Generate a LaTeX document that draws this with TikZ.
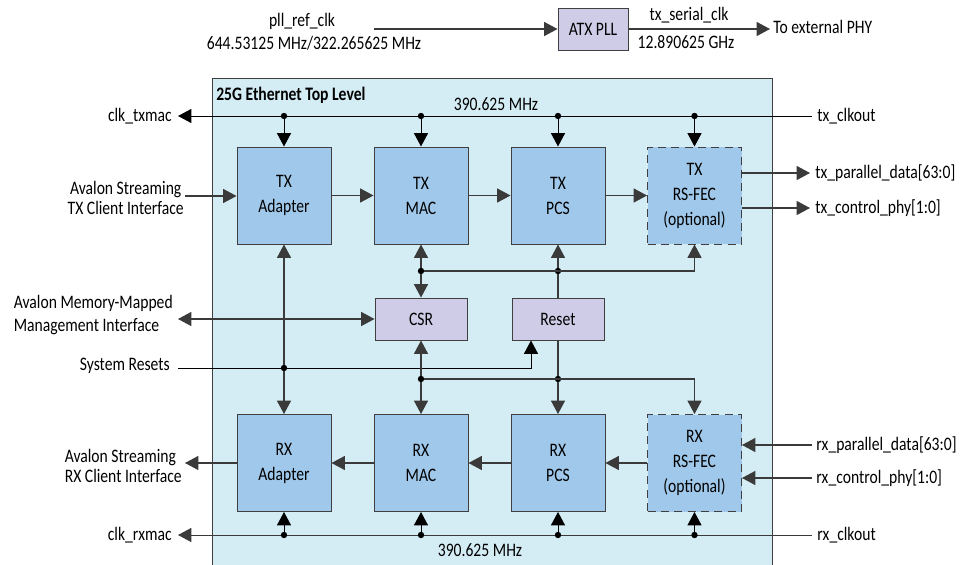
\documentclass[tikz,border=0pt]{standalone}
\usepackage{fontspec}
\setmainfont[FakeStretch=0.82]{Carlito}
\usetikzlibrary{arrows.meta}
\definecolor{mainF}{HTML}{D4ECF4}
\definecolor{blueF}{HTML}{9FC8EA}
\definecolor{lavF}{HTML}{CFCCE7}
\definecolor{bd}{HTML}{3F3F3F}
\definecolor{ln}{HTML}{3A3A3A}
\begin{document}
\begin{tikzpicture}[x=0.75pt,y=-0.75pt,
  font=\fontsize{14.3}{15.5}\selectfont,
  blk/.style={draw=bd, fill=blueF, line width=0.75pt, minimum width=70.5pt, minimum height=72.75pt, align=center, inner sep=0pt, font=\fontsize{14.3}{18.75}\selectfont},
  fec/.style={blk, dash pattern=on 6pt off 4pt},
  lav/.style={draw=bd, fill=lavF, line width=0.75pt, minimum width=69pt, minimum height=31.5pt, inner sep=0pt},
  tip/.tip={Triangle[length=10pt,width=10.5pt]},
  arr/.style={-tip, draw=ln, line width=0.8pt},
  darr/.style={tip-tip, draw=ln, line width=0.8pt},
  wire/.style={draw=ln, line width=0.8pt},
  dot/.style={circle, fill=black, inner sep=0pt, minimum size=4.8pt},
  lbl/.style={inner sep=0pt}]
\useasboundingbox (0,0) rectangle (974,564);
% top PLL
\node[lav, minimum width=52.5pt] (atx) at (593,29) {ATX PLL};
\coordinate (pllin) at (374,29);
\coordinate (phy) at (770,29);
\draw[arr] (pllin) -- (atx.west);
\draw[arr] (atx.east) -- (phy);
\node[lbl] (pllt) at (302,21) {pll\_ref\_clk};
\node[lbl] (pllf) at (314,43) {644.53125 MHz/322.265625 MHz};
\node[lbl] (sert) at (689,15) {tx\_serial\_clk};
\node[lbl] (serf) at (686,42) {12.890625 GHz};
\node[lbl, anchor=west] (phyt) at (773,27) {To external PHY};
% main box
\fill[mainF, draw=bd, line width=0.75pt] (212,78) rectangle (772,580);
\node[lbl, anchor=west, font=\fontsize{14.3}{15.5}\selectfont\bfseries] (title) at (216,95) {25G Ethernet Top Level};
% blocks
\node[blk] (txad) at (284,195.5) {TX\\Adapter};
\node[blk] (txmac) at (421,195.5) {TX\\MAC};
\node[blk] (txpcs) at (558,195.5) {TX\\PCS};
\node[fec] (txfec) at (694.5,195.5) {TX\\RS-FEC\\(optional)};
\node[blk] (rxad) at (284,463) {RX\\Adapter};
\node[blk] (rxmac) at (421,463) {RX\\MAC};
\node[blk] (rxpcs) at (558,463) {RX\\PCS};
\node[fec] (rxfec) at (694.5,463) {RX\\RS-FEC\\(optional)};
\node[lav] (csr) at (421,319) {CSR};
\node[lav] (rst) at (558,319) {Reset};
% top clock
\coordinate (txclkR) at (812,116);
\coordinate (txclkL) at (178,116);
\draw[-tip, line width=0.75pt] (txclkR) -- (txclkL);
\node[lbl, anchor=west] (txclkt) at (817,116) {tx\_clkout};
\node[lbl, anchor=east] (clktx) at (172,116) {clk\_txmac};
\node[lbl] (f1) at (496,104) {390.625 MHz};
\node[dot] (c1) at (284,116) {};
\node[dot] (c2) at (421,116) {};
\node[dot] (c3) at (558,116) {};
\node[dot] (c4) at (694.5,116) {};
\foreach \d/\b in {c1/txad,c2/txmac,c3/txpcs,c4/txfec}
  \draw[-tip, line width=0.75pt] (\d) -- (\b.north);
% bottom clock
\coordinate (rxclkR) at (812,535);
\coordinate (rxclkL) at (178,535);
\draw[-tip, line width=0.75pt, draw=ln] (rxclkR) -- (rxclkL);
\node[lbl, anchor=west] (rxclkt) at (817,535) {rx\_clkout};
\node[lbl, anchor=east] (clkrx) at (172,535) {clk\_rxmac};
\node[lbl] (f2) at (480,550) {390.625 MHz};
\node[dot] (r1) at (284,535) {};
\node[dot] (r2) at (421,535) {};
\node[dot] (r3) at (558,535) {};
\node[dot] (r4) at (694.5,535) {};
\foreach \d/\b in {r1/rxad,r2/rxmac,r3/rxpcs,r4/rxfec}
  \draw[-tip, line width=0.75pt] (\d) -- (\b.south);
% TX data path
\coordinate (txin) at (185,196);
\draw[arr] (txin) -- (txad.west |- txin);
\node[lbl, anchor=east, align=center] (txint) at (184,198) {Avalon Streaming\\TX Client Interface};
\draw[arr] (txad) -- (txmac);
\draw[arr] (txmac) -- (txpcs);
\draw[arr] (txpcs) -- (txfec);
\coordinate (tpd) at (810,173);
\coordinate (tcp) at (810,208);
\draw[arr] (txfec.east |- tpd) -- (tpd);
\draw[arr] (txfec.east |- tcp) -- (tcp);
\node[lbl, anchor=west] (tpdt) at (815,173) {tx\_parallel\_data[63:0]};
\node[lbl, anchor=west] (tcpt) at (815,208) {tx\_control\_phy[1:0]};
% RX data path
\coordinate (rpd) at (812,445);
\coordinate (rcp) at (812,478);
\draw[arr] (rpd) -- (rxfec.east |- rpd);
\draw[arr] (rcp) -- (rxfec.east |- rcp);
\node[lbl, anchor=west] (rpdt) at (816,445) {rx\_parallel\_data[63:0]};
\node[lbl, anchor=west] (rcpt) at (816,478) {rx\_control\_phy[1:0]};
\draw[arr] (rxfec) -- (rxpcs);
\draw[arr] (rxpcs) -- (rxmac);
\draw[arr] (rxmac) -- (rxad);
\coordinate (rxout) at (185,463);
\draw[arr] (rxad.west |- rxout) -- (rxout);
\node[lbl, anchor=east, align=left] (rxint) at (182,466) {Avalon Streaming\\RX Client Interface};
% management
\coordinate (mm) at (178,319);
\draw[darr] (mm) -- (csr.west);
\node[lbl, anchor=east, align=left] (mmt) at (173,315) {Avalon Memory-Mapped\\[2pt]Management Interface};
% system resets
\coordinate (sr) at (178,368);
\coordinate (srk) at (531,368);
\draw[-tip, line width=0.75pt] (sr) -- (srk) -- (srk |- rst.south);
\node[lbl, anchor=east] (srt) at (170,366) {System Resets};
\node[dot] (ja) at (284,368) {};
\draw[arr] (ja) -- (txad.south);
\draw[arr] (ja) -- (rxad.north);
% upper bus
\node[dot] (j1) at (421,271) {};
\node[dot] (j2) at (558,271) {};
\draw[arr] (j1) -- (txmac.south);
\draw[arr] (j1) -- (csr.north);
\draw[arr] (j1) -- (txfec.south |- j1) -- (txfec.south);
\draw[arr] (j2) -- (txpcs.south);
\draw[wire] (rst.north) -- (j2);
% lower bus
\node[dot] (j3) at (421,379) {};
\node[dot] (j4) at (558,379) {};
\draw[arr] (j3) -- (csr.south);
\draw[arr] (j3) -- (rxmac.north);
\draw[arr] (j3) -- (rxfec.north |- j3) -- (rxfec.north);
\draw[arr] (j4) -- (rxpcs.north);
\draw[wire] (rst.south) -- (j4);
\end{tikzpicture}
\end{document}
